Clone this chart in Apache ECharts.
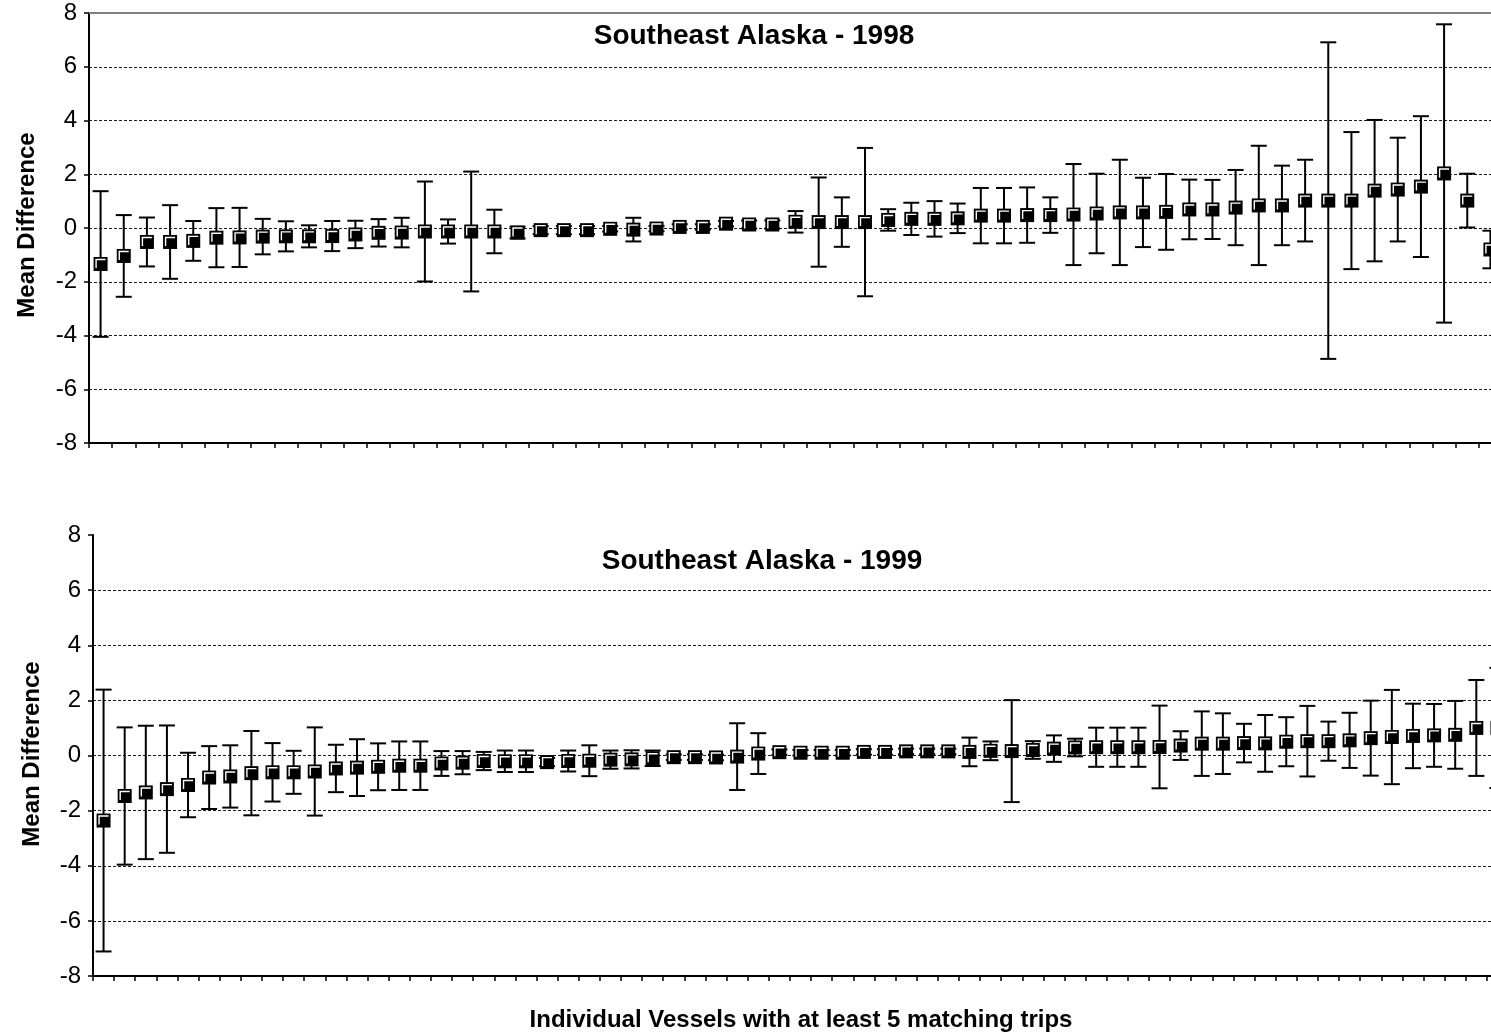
<!DOCTYPE html>
<html>
<head>
<meta charset="utf-8">
<title>Southeast Alaska - Mean Difference by Vessel</title>
<script src="https://cdn.jsdelivr.net/npm/echarts@6/dist/echarts.min.js"></script>
<style>
  html, body { margin: 0; padding: 0; background: #fff; overflow: hidden; }
  #chart { width: 1520px; height: 1032px; }
</style>
</head>
<body>
<div id="chart"></div>
<script>
// Mean difference per vessel (sorted), with symmetric error half-widths
const mean1998 = [-1.34, -1.04, -0.52, -0.52, -0.48, -0.36, -0.35, -0.32, -0.31, -0.31,
  -0.30, -0.24, -0.18, -0.17, -0.13, -0.13, -0.13, -0.13, -0.17, -0.08,
  -0.08, -0.08, -0.03, -0.06, -0.02, 0.04, 0.04, 0.16, 0.13, 0.13,
  0.23, 0.22, 0.22, 0.22, 0.30, 0.34, 0.34, 0.36, 0.46, 0.46,
  0.48, 0.48, 0.50, 0.54, 0.58, 0.58, 0.60, 0.69, 0.69, 0.76,
  0.84, 0.84, 1.02, 1.02, 1.02, 1.39, 1.43, 1.54, 2.03, 1.02, -0.80];
const err1998 = [2.71, 1.52, 0.91, 1.37, 0.74, 1.10, 1.10, 0.66, 0.56, 0.41,
  0.56, 0.51, 0.51, 0.55, 1.86, 0.45, 2.23, 0.81, 0.22, 0.15,
  0.15, 0.15, 0.10, 0.44, 0.10, 0.10, 0.10, 0.10, 0.15, 0.15,
  0.40, 1.66, 0.92, 2.76, 0.40, 0.60, 0.66, 0.55, 1.03, 1.03,
  1.03, 0.66, 1.88, 1.48, 1.96, 1.29, 1.41, 1.11, 1.10, 1.40,
  2.22, 1.48, 1.52, 5.89, 2.55, 2.63, 1.93, 2.62, 5.55, 1.00, 0.70];

const mean1999 = [-2.36, -1.47, -1.34, -1.22, -1.07, -0.80, -0.76, -0.64, -0.61, -0.61,
  -0.58, -0.47, -0.44, -0.41, -0.37, -0.37, -0.29, -0.26, -0.20, -0.21,
  -0.21, -0.24, -0.20, -0.19, -0.15, -0.14, -0.10, -0.06, -0.06, -0.07,
  -0.04, 0.07, 0.12, 0.10, 0.10, 0.10, 0.13, 0.13, 0.15, 0.15,
  0.15, 0.13, 0.17, 0.16, 0.20, 0.25, 0.29, 0.30, 0.30, 0.30,
  0.31, 0.36, 0.43, 0.43, 0.45, 0.44, 0.50, 0.52, 0.52, 0.55,
  0.63, 0.67, 0.71, 0.73, 0.75, 1.00, 1.00];
const err1999 = [4.75, 2.49, 2.42, 2.31, 1.17, 1.14, 1.13, 1.53, 1.06, 0.78,
  1.60, 0.86, 1.03, 0.85, 0.88, 0.88, 0.45, 0.42, 0.33, 0.39,
  0.39, 0.15, 0.38, 0.56, 0.33, 0.33, 0.28, 0.10, 0.10, 0.10,
  1.21, 0.74, 0.10, 0.10, 0.10, 0.10, 0.10, 0.10, 0.10, 0.10,
  0.10, 0.52, 0.34, 1.85, 0.32, 0.48, 0.32, 0.71, 0.71, 0.71,
  1.50, 0.52, 1.17, 1.10, 0.70, 1.03, 0.89, 1.28, 0.71, 1.00,
  1.36, 1.71, 1.17, 1.14, 1.23, 1.74, 2.18];

const vessels1998 = mean1998.map((_, i) => String(i + 1));
const vessels1999 = mean1999.map((_, i) => String(i + 1));

const titles = ['Southeast Alaska - 1998', 'Southeast Alaska - 1999'];
const yName = 'Mean Difference';
const xName = 'Individual Vessels with at least 5 matching trips';
const yMin = -8, yMax = 8, yStep = 2;

const FONT = '"Liberation Sans", Arial, sans-serif';

// error bar with caps, then a square marker with a white inner bevel
function renderPoint(params, api) {
  const i = api.value(0), m = api.value(1), e = api.value(2);
  const c = api.coord([i, m]);
  const hi = api.coord([i, m + e]);
  const lo = api.coord([i, m - e]);
  const x = c[0], y = c[1];
  const cap = 8, s = 7;
  const stroke = { stroke: '#000', lineWidth: 2 };
  return {
    type: 'group',
    children: [
      { type: 'line', shape: { x1: x, y1: hi[1], x2: x, y2: lo[1] }, style: stroke },
      { type: 'line', shape: { x1: x - cap, y1: hi[1], x2: x + cap, y2: hi[1] }, style: stroke },
      { type: 'line', shape: { x1: x - cap, y1: lo[1], x2: x + cap, y2: lo[1] }, style: stroke },
      { type: 'rect', shape: { x: x - s, y: y - s, width: 2 * s, height: 2 * s }, style: { fill: '#000' } },
      { type: 'polyline',
        shape: { points: [[x - 4.5, y + 4], [x - 4.5, y - 4.5], [x + 5, y - 4.5]] },
        style: { stroke: '#fff', lineWidth: 1.4, fill: null } }
    ]
  };
}

function xAxisFor(gridIndex, cats) {
  return {
    type: 'category', gridIndex, data: cats, boundaryGap: true, position: 'bottom',
    axisLine: { onZero: false, lineStyle: { color: '#000', width: 2 } },
    axisTick: { show: true, interval: 0, length: 5, lineStyle: { color: '#000', width: 1.5 } },
    axisLabel: { show: false, interval: 0 },
    splitLine: { show: false }
  };
}

function yAxisFor(gridIndex) {
  return {
    type: 'value', gridIndex, min: yMin, max: yMax, interval: yStep,
    axisLine: { show: true, onZero: false, lineStyle: { color: '#000', width: 2 } },
    axisTick: { show: true, length: 5, lineStyle: { color: '#000', width: 1.5 } },
    axisLabel: { color: '#000', fontSize: 24, fontFamily: FONT, margin: 12 },
    splitLine: { show: true, showMinLine: false, showMaxLine: false,
      lineStyle: { color: '#1a1a1a', width: 1, type: [3, 2] } }
  };
}

const chart = echarts.init(document.getElementById('chart'), null, { renderer: 'canvas' });

chart.setOption({
  backgroundColor: '#fff',
  animation: false,
  grid: [
    { left: 89, top: 13, width: 1413, height: 430 },
    { left: 93, top: 535, width: 1415, height: 441 }
  ],
  xAxis: [
    xAxisFor(0, vessels1998),
    xAxisFor(1, vessels1999),
    // plot-area border along the top of the upper panel
    { type: 'category', gridIndex: 0, data: vessels1998, position: 'top',
      axisLine: { onZero: false, lineStyle: { color: '#808080', width: 2 } },
      axisTick: { show: false }, axisLabel: { show: false }, splitLine: { show: false } }
  ],
  yAxis: [yAxisFor(0), yAxisFor(1)],
  graphic: [
    { type: 'text', x: 754, y: 36, style: { text: titles[0], font: 'bold 28px ' + FONT,
      fill: '#000', textAlign: 'center', textVerticalAlign: 'middle' } },
    { type: 'text', x: 762, y: 561, style: { text: titles[1], font: 'bold 28px ' + FONT,
      fill: '#000', textAlign: 'center', textVerticalAlign: 'middle' } },
    { type: 'text', x: 27, y: 225, rotation: Math.PI / 2, style: { text: yName, font: 'bold 24px ' + FONT,
      fill: '#000', textAlign: 'center', textVerticalAlign: 'middle' } },
    { type: 'text', x: 32, y: 754, rotation: Math.PI / 2, style: { text: yName, font: 'bold 24px ' + FONT,
      fill: '#000', textAlign: 'center', textVerticalAlign: 'middle' } },
    { type: 'text', x: 801, y: 1020, style: { text: xName, font: 'bold 24px ' + FONT,
      fill: '#000', textAlign: 'center', textVerticalAlign: 'middle' } }
  ],
  series: [
    { type: 'custom', xAxisIndex: 0, yAxisIndex: 0, renderItem: renderPoint, clip: false,
      encode: { x: 0, y: 1 },
      data: mean1998.map((m, i) => [i, m, err1998[i]]) },
    { type: 'custom', xAxisIndex: 1, yAxisIndex: 1, renderItem: renderPoint, clip: false,
      encode: { x: 0, y: 1 },
      data: mean1999.map((m, i) => [i, m, err1999[i]]) }
  ]
});
</script>
</body>
</html>
